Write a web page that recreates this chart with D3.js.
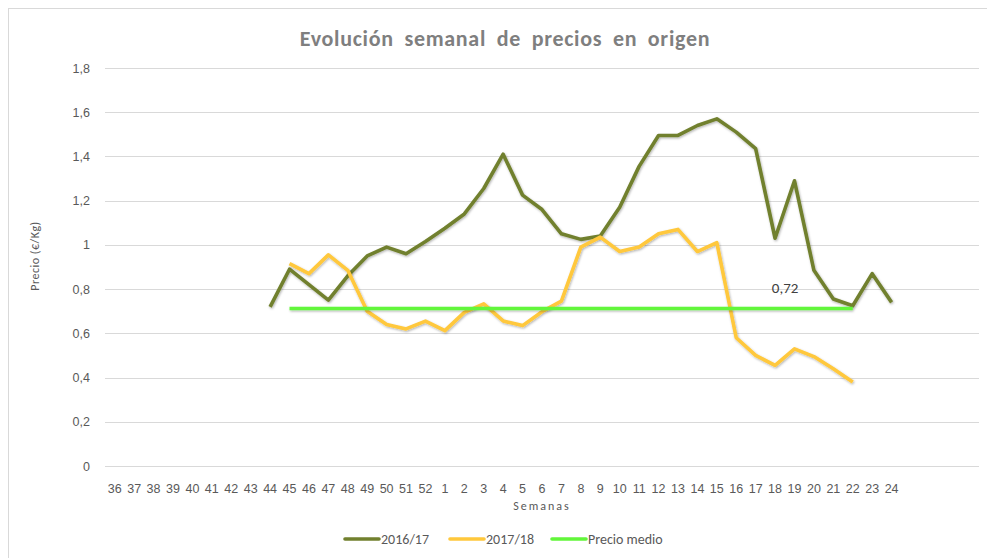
<!DOCTYPE html>
<html>
<head>
<meta charset="utf-8">
<script src="https://cdn.jsdelivr.net/npm/d3@7"></script>
<style>
  body { margin: 0; background: #fff; }
  svg { display: block; font-family: Carlito, Calibri, Lato, "Open Sans", sans-serif; }
</style>
</head>
<body>
<svg id="chart" width="987" height="558"></svg>
<script>
// semanas (36..52 de un año, 1..24 del siguiente) + huecos vacíos al final
var weeks = ["36","37","38","39","40","41","42","43","44","45","46","47","48","49","50","51","52",
  "1","2","3","4","5","6","7","8","9","10","11","12","13","14","15","16","17","18","19","20","21","22","23","24"];
var blanks = ["_a","_b","_c","_d"];

var weeks1617 = ["44","45","46","47","48","49","50","51","52","1","2","3","4","5","6","7","8","9",
  "10","11","12","13","14","15","16","17","18","19","20","21","22","23","24"];
var price1617 = [0.72,0.89,0.82,0.75,0.86,0.95,0.99,0.96,1.015,1.075,1.14,1.255,1.41,1.225,1.16,1.05,1.025,1.04,
  1.17,1.355,1.495,1.495,1.54,1.57,1.51,1.435,1.03,1.29,0.885,0.755,0.725,0.87,0.74];

var weeks1718 = ["45","46","47","48","49","50","51","52","1","2","3","4","5","6","7","8","9",
  "10","11","12","13","14","15","16","17","18","19","20","21","22"];
var price1718 = [0.915,0.87,0.955,0.885,0.7,0.64,0.62,0.655,0.612,0.695,0.733,0.656,0.635,0.698,0.746,0.99,1.035,
  0.97,0.99,1.05,1.07,0.97,1.01,0.58,0.5,0.455,0.53,0.495,0.44,0.38];

var meanWeeks = ["45","22"];
var meanPrice = 0.712;
var meanLabel = "0,72";

var yTicks = [0,0.2,0.4,0.6,0.8,1,1.2,1.4,1.6,1.8];

var svg = d3.select("#chart");
var plotLeft = 105, plotRight = 979, plotTop = 68, plotBottom = 466;

// borde del gráfico
svg.append("rect")
  .attr("x", 8.5).attr("y", 8.5)
  .attr("width", 1000).attr("height", 600)
  .attr("fill", "none")
  .attr("stroke", "#d9d9d9");

var x = d3.scaleBand()
  .domain(weeks.concat(blanks))
  .range([plotLeft, plotRight])
  .padding(0);

var y = d3.scaleLinear()
  .domain([0, 1.8])
  .range([plotBottom, plotTop]);

var cx = function(w) { return x(w) + x.bandwidth() / 2; };
var fmt = function(d) { return String(d).replace(".", ","); };

// rejilla
svg.append("g")
  .selectAll("line")
  .data(yTicks)
  .enter()
  .append("line")
  .attr("x1", plotLeft).attr("x2", plotRight)
  .attr("y1", function(d) { return Math.round(y(d)) + 0.5; })
  .attr("y2", function(d) { return Math.round(y(d)) + 0.5; })
  .attr("stroke", "#d9d9d9")
  .attr("stroke-width", 1);

// eje Y
var yAxis = d3.axisLeft(y)
  .tickValues(yTicks)
  .tickSize(0)
  .tickPadding(15)
  .tickFormat(fmt);

svg.append("g")
  .attr("transform", "translate(" + plotLeft + ",0)")
  .call(yAxis)
  .call(function(g) { g.select(".domain").remove(); })
  .selectAll("text")
  .attr("fill", "#595959")
  .style("font-size", "12.5px");

// eje X
var xAxis = d3.axisBottom(x)
  .tickSize(0)
  .tickPadding(18)
  .tickFormat(function(d) { return d.charAt(0) === "_" ? "" : d; });

svg.append("g")
  .attr("transform", "translate(0," + plotBottom + ")")
  .call(xAxis)
  .call(function(g) { g.select(".domain").remove(); })
  .selectAll("text")
  .attr("fill", "#595959")
  .style("font-size", "12.5px");

// títulos
svg.append("text")
  .attr("x", 505).attr("y", 46)
  .attr("text-anchor", "middle")
  .attr("fill", "#7f7f7f")
  .style("font-size", "22px")
  .style("font-weight", "bold")
  .style("letter-spacing", "0.7px")
  .style("word-spacing", "5px")
  .text("Evolución semanal de precios en origen");

svg.append("text")
  .attr("x", 542).attr("y", 510)
  .attr("text-anchor", "middle")
  .attr("fill", "#595959")
  .style("font-size", "12px")
  .style("letter-spacing", "2px")
  .text("Semanas");

svg.append("text")
  .attr("transform", "translate(39,256) rotate(-90)")
  .attr("text-anchor", "middle")
  .attr("fill", "#595959")
  .style("font-size", "12px")
  .style("letter-spacing", "0.5px")
  .text("Precio (€/Kg)");

// líneas
var line = d3.line()
  .x(function(d) { return cx(d[0]); })
  .y(function(d) { return y(d[1]); });

var shadow = svg.append("defs").append("filter")
  .attr("id", "sh")
  .attr("filterUnits", "userSpaceOnUse")
  .attr("x", 0).attr("y", 0).attr("width", 987).attr("height", 558);
shadow.append("feDropShadow")
  .attr("dx", 0.8).attr("dy", 1.2).attr("stdDeviation", 0.9)
  .attr("flood-color", "#000").attr("flood-opacity", 0.3);

var series = [
  { name: "2016/17", color: "#71802e", pts: d3.zip(weeks1617, price1617) },
  { name: "2017/18", color: "#ffc83c", pts: d3.zip(weeks1718, price1718) },
  { name: "Precio medio", color: "#62f63a", pts: meanWeeks.map(function(w) { return [w, meanPrice]; }) }
];

svg.append("g")
  .selectAll("path")
  .data(series)
  .enter()
  .append("path")
  .attr("d", function(d) { return line(d.pts); })
  .attr("fill", "none")
  .attr("stroke", function(d) { return d.color; })
  .attr("stroke-width", 3.6)
  .attr("stroke-linejoin", "round")
  .attr("filter", "url(#sh)");

// etiqueta del precio medio
svg.append("text")
  .attr("x", cx("18") + 10).attr("y", y(meanPrice) - 16)
  .attr("text-anchor", "middle")
  .attr("fill", "#404040")
  .style("font-size", "15px")
  .text(meanLabel);

// leyenda
var legendX = [345, 450, 552];
var leg = svg.append("g")
  .selectAll("g")
  .data(series)
  .enter()
  .append("g")
  .attr("transform", function(d, i) { return "translate(" + legendX[i] + ",539)"; });

leg.append("line")
  .attr("x1", 0).attr("x2", 34)
  .attr("stroke", function(d) { return d.color; })
  .attr("stroke-width", 3.6)
  .attr("stroke-linecap", "round");

leg.append("text")
  .attr("x", 36).attr("y", 5)
  .attr("fill", "#595959")
  .style("font-size", "14px")
  .text(function(d) { return d.name; });
</script>
</body>
</html>
